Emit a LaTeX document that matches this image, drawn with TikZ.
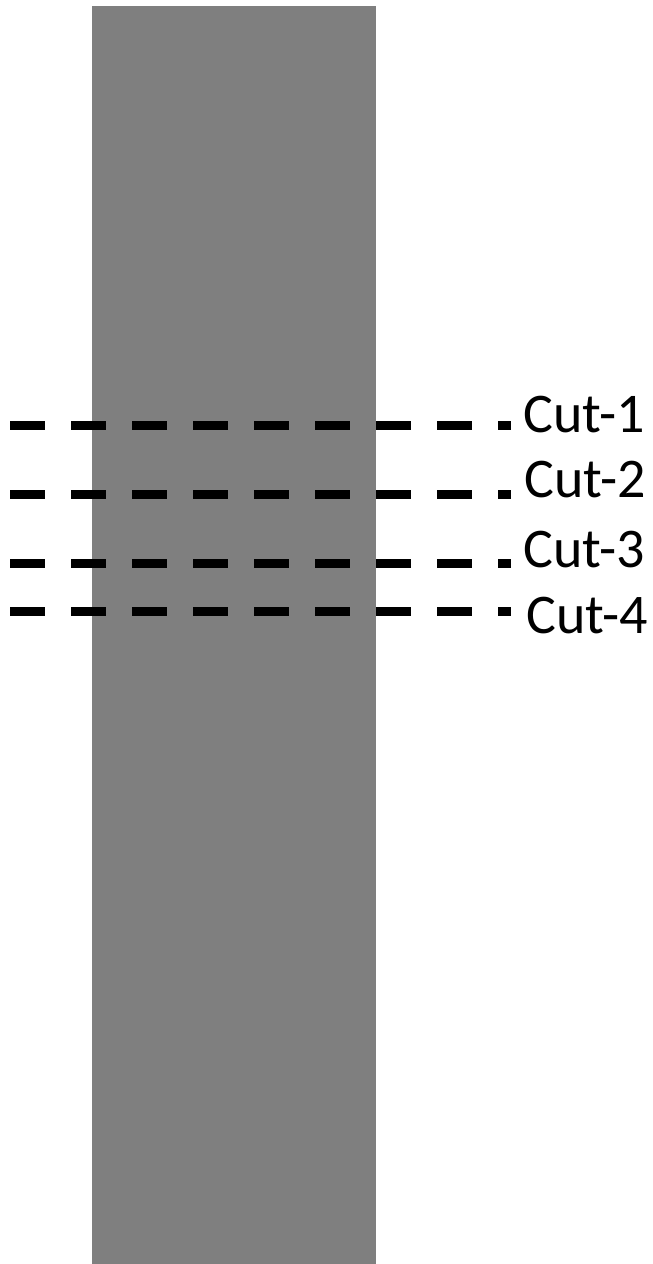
\documentclass[tikz,border=0pt]{standalone}
\usepackage{fontspec}
\setmainfont{Carlito}
\definecolor{bar}{HTML}{7F7F7F}
\tikzset{
  cutline/.style={line width=9pt, dash pattern=on 35pt off 26pt, line cap=butt},
  cutlabel/.style={anchor=base west, inner sep=0pt, font=\fontsize{56}{60}\selectfont}
}
\begin{document}
\begin{tikzpicture}[x=1pt,y=-1pt]
\useasboundingbox (0,0) rectangle (653,1264);
\fill[bar] (92,6) rectangle (376,1264);
\foreach \i/\y/\by/\tx in {1/425/432/523, 2/494/497/524, 3/563/567/523, 4/611/633/526}{
  \coordinate (s\i) at (10,\y);
  \coordinate (e\i) at (511,\y);
  \draw[cutline] (s\i) -- (e\i);
  \node[cutlabel] (c\i) at (\tx,\by) {Cut-\i};
}
\end{tikzpicture}
\end{document}
